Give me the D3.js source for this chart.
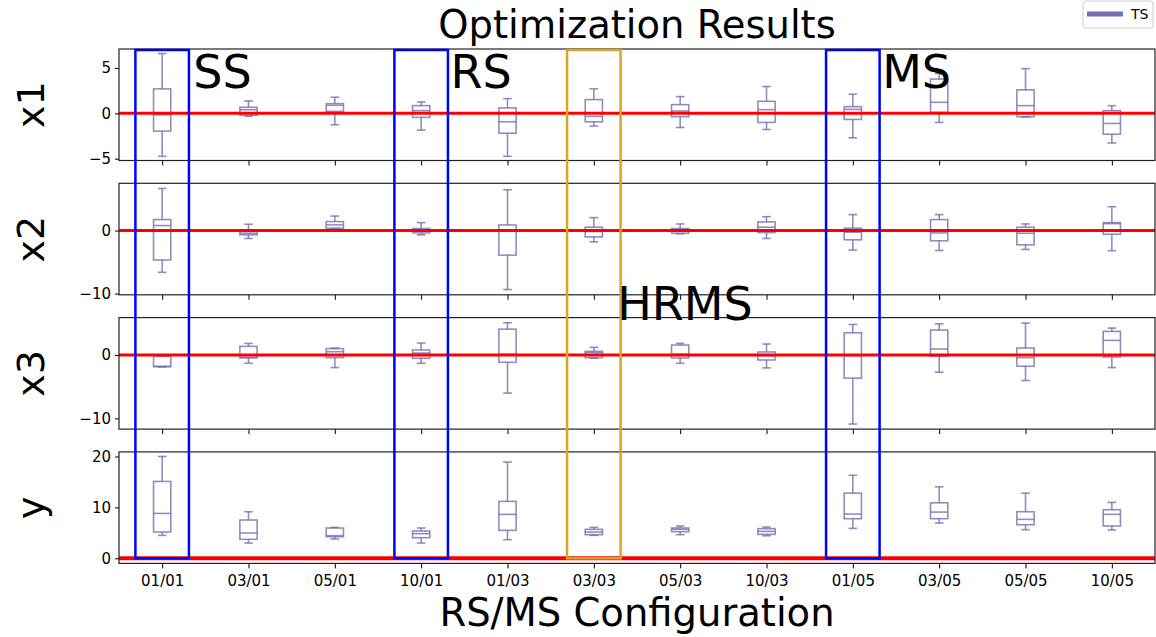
<!DOCTYPE html>
<html lang="en">
<head>
<meta charset="UTF-8">
<title>Optimization Results</title>
<script src="https://cdn.jsdelivr.net/npm/d3@7"></script>
<style>
  body { margin: 0; background: #fff; }
  text { font-family: "DejaVu Sans", sans-serif; }
</style>
</head>
<body>
<svg id="mainsvg" width="1156" height="637"></svg>
<script>
// categories (RS/MS configuration)
const configs = ["01/01", "03/01", "05/01", "10/01", "01/03", "03/03", "05/03", "10/03", "01/05", "03/05", "05/05", "10/05"];

// box stats per config: [whisker low, q1, median, q3, whisker high]
const x1Stats = [
  [-4.74, -1.96, -0.15, 2.7, 6.6],
  [-0.33, -0.2, 0.4, 0.67, 1.37],
  [-1.26, 0.22, 0.89, 1.07, 1.78],
  [-1.85, -0.44, 0.3, 0.85, 1.26],
  [-4.74, -2.19, -0.93, 0.6, 1.63],
  [-1.4, -0.93, -0.33, 1.52, 2.7],
  [-1.56, -0.37, 0.26, 0.96, 1.85],
  [-1.78, -1.0, 0.41, 1.33, 2.96],
  [-2.7, -0.67, 0.44, 0.74, 2.11],
  [-1.0, 0.11, 1.22, 3.78, 4.4],
  [-0.4, -0.37, 0.85, 2.59, 4.93],
  [-3.26, -2.3, -1.11, 0.3, 0.85]
];
const x2Stats = [
  [-6.63, -4.68, 0.79, 1.74, 6.68],
  [-1.26, -0.68, -0.42, -0.1, 1.0],
  [0.3, 0.37, 0.9, 1.42, 2.3],
  [-0.68, -0.37, 0.1, 0.32, 1.26],
  [-9.37, -3.9, 0.1, 0.89, 6.47],
  [-1.79, -1.0, -0.16, 0.53, 2.05],
  [-0.53, -0.42, 0.05, 0.32, 1.05],
  [-1.26, -0.32, 0.53, 1.37, 2.2],
  [-3.1, -1.47, -0.26, 0.37, 2.53],
  [-3.16, -1.63, -0.37, 1.74, 2.53],
  [-3.0, -2.26, -0.42, 0.53, 1.05],
  [-3.2, -0.58, 1.1, 1.26, 3.79]
];
const x3Stats = [
  [-1.9, -1.85, -1.78, -0.2, -0.2],
  [-1.31, -0.47, -0.37, 1.36, 1.83],
  [-1.99, -0.42, 0.52, 1.0, 1.1],
  [-1.31, -0.52, 0.31, 0.79, 1.88],
  [-6.02, -1.15, 0.1, 4.08, 5.08],
  [-0.52, -0.42, 0.37, 0.58, 1.2],
  [-1.31, -0.47, 0.1, 1.57, 1.83],
  [-2.04, -0.79, -0.1, 0.47, 1.73],
  [-10.9, -3.66, -0.1, 3.5, 4.82],
  [-2.72, -0.2, 0.94, 3.93, 4.92],
  [-4.03, -1.78, -0.42, 1.1, 5.03],
  [-1.99, -0.31, 2.3, 3.72, 4.24]
];
const yStats = [
  [4.5, 5.16, 8.82, 15.1, 20.0],
  [3.0, 3.73, 4.97, 7.52, 9.15],
  [3.79, 4.25, 4.44, 5.95, 6.08],
  [3.0, 4.05, 4.84, 5.36, 5.95],
  [3.66, 5.49, 8.63, 11.18, 18.9],
  [4.51, 4.64, 5.16, 5.69, 6.08],
  [4.64, 5.23, 5.69, 5.95, 6.34],
  [4.44, 4.7, 5.29, 5.82, 6.14],
  [5.88, 7.78, 8.69, 12.8, 16.3],
  [6.93, 7.78, 9.08, 10.9, 14.05],
  [5.62, 6.6, 7.65, 9.15, 12.8],
  [5.56, 6.34, 8.63, 9.54, 10.98]
];

const panelNames = ["x1", "x2", "x3", "y"];
const panelDomains = [[-5.2, 7.1], [-10.2, 7.5], [-11.7, 5.9], [-1, 20.9]];
const panelTicks = [[-5, 0, 5], [-10, 0], [-10, 0], [0, 10, 20]];
const panelData = [x1Stats, x2Stats, x3Stats, yStats];

// highlighted configurations
const highlights = [
  {config: "01/01", label: "SS", color: "#0000ff"},
  {config: "10/01", label: "RS", color: "#0000ff"},
  {config: "03/03", label: "HRMS", color: "#daa520"},
  {config: "01/05", label: "MS", color: "#0000ff"}
];

const svg = d3.select("#mainsvg");
const margin = {left: 119, right: 1, top: 49};
const panelH = 111.5;
const panelGap = 22.8;
const boxColor = "#7570b3";

const x = d3.scaleLinear()
  .domain([0.5, configs.length + 0.5])
  .range([margin.left, 1156 - margin.right]);

const panelTop = i => margin.top + i * (panelH + panelGap);
const yScales = panelDomains.map((dom, i) =>
  d3.scaleLinear().domain(dom).range([panelTop(i) + panelH, panelTop(i)]));

// title
svg.append("text")
  .attr("x", (x.range()[0] + x.range()[1]) / 2)
  .attr("y", 38)
  .attr("text-anchor", "middle")
  .attr("font-size", 38.5)
  .text("Optimization Results");

panelData.forEach((stats, i) => {
  const y = yScales[i];
  const g = svg.append("g").attr("class", "panel");

  // y axis
  const yAxis = g.append("g")
    .attr("transform", `translate(${margin.left},0)`)
    .call(d3.axisLeft(y).tickValues(panelTicks[i]).tickSize(4).tickPadding(4)
      .tickFormat(d => d < 0 ? "\u2212" + Math.abs(d) : d));
  yAxis.select(".domain").remove();
  yAxis.selectAll("text").attr("font-size", 15).attr("font-family", "DejaVu Sans");

  // x axis ticks
  const xAxis = g.append("g")
    .attr("transform", `translate(0,${y.range()[0]})`)
    .call(d3.axisBottom(x).tickValues(d3.range(1, configs.length + 1)).tickSize(5).tickPadding(7)
      .tickFormat(d => i === 3 ? configs[d - 1] : ""));
  xAxis.select(".domain").remove();
  xAxis.selectAll("text").attr("font-size", 15).attr("font-family", "DejaVu Sans");

  // boxes
  const bw = 0.2, cw = 0.1;
  const boxes = g.selectAll(".box")
    .data(stats)
    .join("g")
    .attr("class", "box")
    .attr("stroke", boxColor)
    .attr("stroke-opacity", 0.8)
    .attr("stroke-width", 1.6)
    .attr("fill", "none");
  boxes.append("rect")
    .attr("x", (d, j) => x(j + 1 - bw / 2))
    .attr("width", x(bw) - x(0))
    .attr("y", d => y(d[3]))
    .attr("height", d => y(d[1]) - y(d[3]));
  boxes.append("line")
    .attr("x1", (d, j) => x(j + 1 - bw / 2)).attr("x2", (d, j) => x(j + 1 + bw / 2))
    .attr("y1", d => y(d[2])).attr("y2", d => y(d[2]));
  boxes.append("line")
    .attr("x1", (d, j) => x(j + 1)).attr("x2", (d, j) => x(j + 1))
    .attr("y1", d => y(d[3])).attr("y2", d => y(d[4]));
  boxes.append("line")
    .attr("x1", (d, j) => x(j + 1)).attr("x2", (d, j) => x(j + 1))
    .attr("y1", d => y(d[1])).attr("y2", d => y(d[0]));
  boxes.append("line")
    .attr("x1", (d, j) => x(j + 1 - cw / 2)).attr("x2", (d, j) => x(j + 1 + cw / 2))
    .attr("y1", d => y(d[4])).attr("y2", d => y(d[4]));
  boxes.append("line")
    .attr("x1", (d, j) => x(j + 1 - cw / 2)).attr("x2", (d, j) => x(j + 1 + cw / 2))
    .attr("y1", d => y(d[0])).attr("y2", d => y(d[0]));

  // zero reference line
  g.append("line")
    .attr("x1", x.range()[0]).attr("x2", x.range()[1])
    .attr("y1", y(0)).attr("y2", y(0))
    .attr("stroke", "red").attr("stroke-width", i === 3 ? 4 : 3);

  // frame
  g.append("rect")
    .attr("x", x.range()[0]).attr("y", y.range()[1])
    .attr("width", x.range()[1] - x.range()[0])
    .attr("height", y.range()[0] - y.range()[1])
    .attr("fill", "none").attr("stroke", "#222").attr("stroke-width", 1.2);

  // panel label
  const cy = (y.range()[0] + y.range()[1]) / 2;
  svg.append("text")
    .attr("transform", `translate(44,${cy}) rotate(-90)`)
    .attr("text-anchor", "middle")
    .attr("font-size", 38)
    .text(panelNames[i]);
});

// x axis title
svg.append("text")
  .attr("x", (x.range()[0] + x.range()[1]) / 2)
  .attr("y", 626)
  .attr("text-anchor", "middle")
  .attr("font-size", 38.5)
  .text("RS/MS Configuration");

// highlight rectangles, spanning from top panel top to y=0 of bottom panel
const yTop = yScales[0].range()[1] + 1;
const yBot = yScales[3](0);
highlights.forEach(h => {
  const p = configs.indexOf(h.config) + 1;
  svg.append("rect")
    .attr("x", x(p - 0.31)).attr("y", yTop)
    .attr("width", x(p + 0.31) - x(p - 0.31))
    .attr("height", yBot - yTop)
    .attr("fill", "none")
    .attr("stroke", h.color).attr("stroke-width", 2.5);
});

// highlight labels
const labelPos = {
  SS: [x(1.36), yScales[0](2.8)],
  RS: [x(4.34), yScales[0](2.8)],
  MS: [x(9.34), yScales[0](2.8)],
  HRMS: [x(6.27), yScales[2].range()[1] + 2]
};
highlights.forEach(h => {
  svg.append("text")
    .attr("x", labelPos[h.label][0])
    .attr("y", labelPos[h.label][1])
    .attr("font-size", 46)
    .text(h.label);
});

// legend
const lg = svg.append("g").attr("transform", "translate(1083,1)");
lg.append("rect")
  .attr("width", 70).attr("height", 27).attr("rx", 3)
  .attr("fill", "#fff").attr("stroke", "#ccc");
lg.append("line")
  .attr("x1", 4).attr("x2", 40).attr("y1", 13).attr("y2", 13)
  .attr("stroke", boxColor).attr("stroke-width", 5);
lg.append("text")
  .attr("x", 48).attr("y", 18)
  .attr("font-size", 14)
  .text("TS");
</script>
</body>
</html>
